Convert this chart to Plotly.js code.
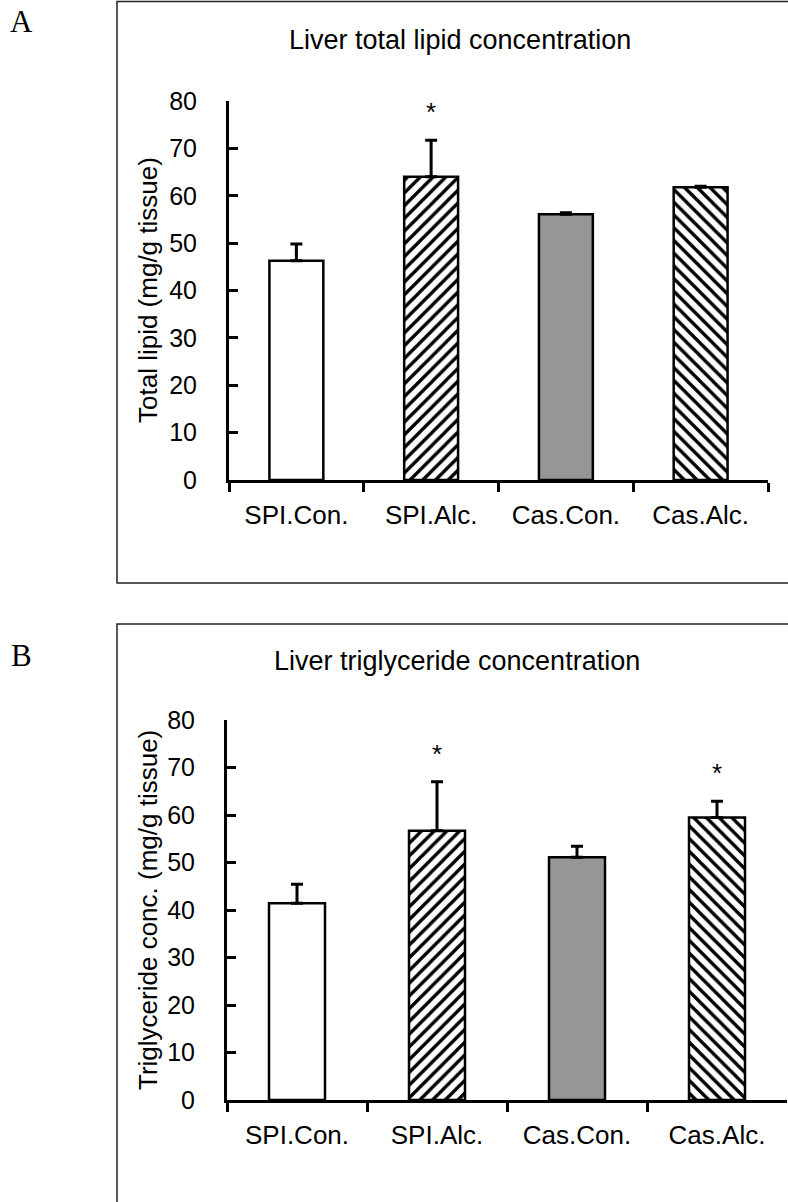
<!DOCTYPE html>
<html>
<head>
<meta charset="utf-8">
<script src="https://cdn.plot.ly/plotly-3.0.1.min.js"></script>
<style>html,body{margin:0;padding:0;background:#fff;}#chart{width:788px;height:1202px;}</style>
</head>
<body>
<div id="chart"></div>
<script>
// ---- data ----
var categories = ["SPI.Con.", "SPI.Alc.", "Cas.Con.", "Cas.Alc."];
var lipidMean = [46.3, 64.0, 56.1, 61.8];
var lipidErr = [3.5, 7.7, 0.3, 0.2];
var lipidSig = [false, true, false, false];
var tgMean = [41.4, 56.7, 51.1, 59.5];
var tgErr = [4.0, 10.3, 2.3, 3.4];
var tgSig = [false, true, false, true];
var yTicks = [0, 10, 20, 30, 40, 50, 60, 70, 80];
var titleA = "Liver total lipid concentration";
var titleB = "Liver triglyceride concentration";
var yTitleA = "Total lipid (mg/g tissue)";
var yTitleB = "Triglyceride conc. (mg/g tissue)";

// ---- styles ----
var W = 788, H = 1202;
var FONT = "Liberation Sans, Arial, sans-serif";
var SERIF = "Liberation Serif, Times New Roman, serif";
var fills = ["#ffffff", "#ffffff", "#969696", "#ffffff"];
var hatch = ["", "/", "", "\\"];
function px(x){ return x / W; }
function py(y){ return (H - y) / H; }

function barTraces(mean, err, xa, ya){
  var out = [];
  for (var i = 0; i < categories.length; i++) {
    var marker = {color: fills[i], line: {color: "#000", width: 2.5}};
    if (hatch[i]) {
      marker.pattern = {shape: hatch[i], fgcolor: "#000", bgcolor: fills[i],
                        fillmode: "replace", size: 9, solidity: 0.37};
    }
    out.push({
      type: "bar", x: [categories[i]], y: [mean[i]], xaxis: xa, yaxis: ya, width: 0.4,
      marker: marker,
      error_y: {type: "data", symmetric: false, array: [err[i]], arrayminus: [0],
                color: "#000", thickness: 3, width: 6},
      hoverinfo: "x+y", showlegend: false
    });
  }
  return out;
}

function xAxis(d0, d1, anchor){
  return {domain: [d0, d1], anchor: anchor, type: "category", range: [-0.5, 3.5],
    categoryorder: "array", categoryarray: categories,
    showline: true, linecolor: "#000", linewidth: 3, ticks: "outside", ticklen: 9, tickwidth: 3,
    tickcolor: "#000", tickson: "boundaries", showgrid: false, zeroline: false,
    tickfont: {family: FONT, size: 26, color: "#000"}, ticklabelstandoff: 10, fixedrange: true};
}
function yAxis(d0, d1, anchor){
  return {domain: [d0, d1], anchor: anchor, range: [0, 80], tickvals: yTicks,
    showline: true, linecolor: "#000", linewidth: 3, ticks: "inside", ticklen: 9, tickwidth: 3,
    tickcolor: "#000", showgrid: false, zeroline: false,
    tickfont: {family: FONT, size: 25, color: "#000"}, ticklabelstandoff: 24, fixedrange: true};
}

function starAnns(mean, err, sig, xref, yref){
  var out = [];
  for (var i = 0; i < categories.length; i++) {
    if (!sig[i]) continue;
    out.push({x: categories[i], y: mean[i] + err[i], xref: xref, yref: yref, text: "*",
      showarrow: false, xanchor: "center", yanchor: "middle", yshift: 28,
      font: {family: FONT, size: 26, color: "#000"}});
  }
  return out;
}

function paperText(text, x, y, size, family, angle){
  return {text: text, x: px(x), y: py(y), xref: "paper", yref: "paper", showarrow: false,
    xanchor: "center", yanchor: "middle", textangle: angle || 0,
    font: {family: family || FONT, size: size, color: "#000"}};
}

var data = barTraces(lipidMean, lipidErr, "x", "y").concat(barTraces(tgMean, tgErr, "x2", "y2"));

var annotations = [
  paperText("A", 21, 22, 31, SERIF),
  paperText("B", 21, 655, 31, SERIF),
  paperText(titleA, 460, 40, 27),
  paperText(titleB, 457, 661, 27),
  paperText(yTitleA, 148, 290, 26, FONT, -90),
  paperText(yTitleB, 148, 910, 26, FONT, -90)
].concat(starAnns(lipidMean, lipidErr, lipidSig, "x", "y"))
 .concat(starAnns(tgMean, tgErr, tgSig, "x2", "y2"));

var layout = {
  width: W, height: H, margin: {l: 0, r: 0, t: 0, b: 0}, barmode: "overlay",
  paper_bgcolor: "#fff", plot_bgcolor: "rgba(0,0,0,0)",
  xaxis: xAxis(px(229), px(768), "y"),
  yaxis: yAxis(py(480), py(101), "x"),
  xaxis2: xAxis(px(227), px(787), "y2"),
  yaxis2: yAxis(py(1100), py(720), "x2"),
  annotations: annotations,
  shapes: [
    {type: "rect", xref: "paper", yref: "paper", x0: px(117), x1: 1.05, y0: py(583), y1: py(1.5),
     line: {color: "#222", width: 1.5}, fillcolor: "rgba(0,0,0,0)", layer: "below"},
    {type: "rect", xref: "paper", yref: "paper", x0: px(117), x1: 1.05, y0: -0.05, y1: py(624),
     line: {color: "#222", width: 1.5}, fillcolor: "rgba(0,0,0,0)", layer: "below"}
  ],
  font: {family: FONT, color: "#000"}
};

Plotly.newPlot("chart", data, layout, {displayModeBar: false, staticPlot: true});
</script>
</body>
</html>
